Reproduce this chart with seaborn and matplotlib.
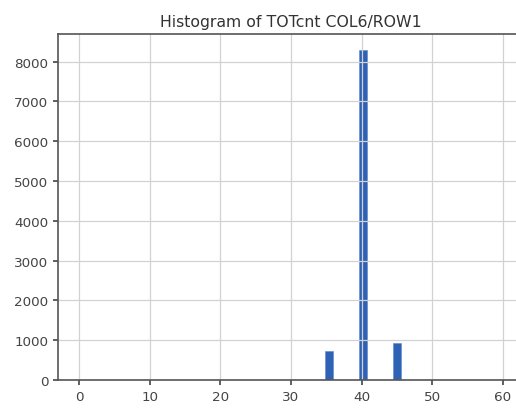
import matplotlib
matplotlib.use("Agg")
import matplotlib.pyplot as plt
import seaborn as sns
import pandas as pd

# TOTcnt readings and how many events fall on each value
tot_values = [35, 40, 45]
event_counts = [735, 8280, 920]
bin_count = 50
value_range = (0, 60)
x_ticks = [0, 10, 20, 30, 40, 50, 60]
y_ticks = [0, 1000, 2000, 3000, 4000, 5000, 6000, 7000, 8000]
title = "Histogram of TOTcnt COL6/ROW1"

sns.set_style("ticks")
plt.rcParams["font.family"] = ["DejaVu Sans"]

df = pd.DataFrame({"TOTcnt": tot_values, "count": event_counts})

fig = plt.figure(figsize=(5.16, 4.10), dpi=100)
ax = fig.add_axes([58 / 516, 29 / 410, 466 / 516, 346 / 410])

sns.histplot(data=df, x="TOTcnt", weights="count", bins=bin_count,
             binrange=value_range, color="#2f62b5", alpha=1.0,
             edgecolor="#5b8ad0", linewidth=0.4, ax=ax)

ax.set_xlim(-3, 63)
ax.set_ylim(0, max(event_counts) * 1.05)
ax.set_xticks(x_ticks)
ax.set_yticks(y_ticks)
ax.set_xlabel("")
ax.set_ylabel("")
ax.set_title(title, fontsize=11.3, color="#333333", pad=6)

ax.set_axisbelow("line")
ax.grid(True, color="#d2d2d2", linewidth=0.9)
ax.tick_params(labelsize=9.7, colors="#444444", length=3.5, width=1.2)
for side in ["left", "bottom", "top", "right"]:
    ax.spines[side].set_visible(True)
    ax.spines[side].set_color("#555555")
    ax.spines[side].set_linewidth(1.2)

fig.savefig("out.png", dpi=100)
